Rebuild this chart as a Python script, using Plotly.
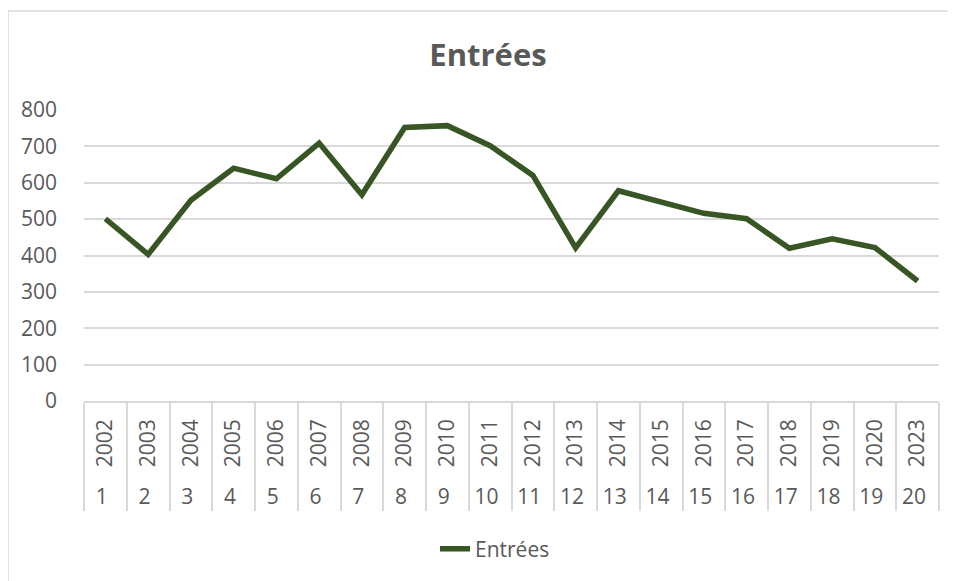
import plotly.graph_objects as go

years = ["2002", "2003", "2004", "2005", "2006", "2007", "2008", "2009", "2010", "2011",
         "2012", "2013", "2014", "2015", "2016", "2017", "2018", "2019", "2020", "2023"]
index_labels = [str(i) for i in range(1, 21)]
entrees = [501, 403, 552, 640, 611, 709, 567, 752, 757, 702,
           620, 421, 578, 548, 516, 501, 420, 446, 422, 330]
y_ticks = [0, 100, 200, 300, 400, 500, 600, 700, 800]

GREEN = "#375623"
GREY_TXT = "#595959"
GRID = "#d9d9d9"
FONT = "Open Sans"

# page body has an 8px margin: figure is 948x573 drawn at (8,8)
W, H = 948, 573
L, R, T, B = 76, 17, 102, 180
PH = H - T - B
PW = W - L - R

# a non-breaking space pads the rotated year labels, spacing the two label rows like the original
year_cats = ["\u00a0" + y for y in years]

fig = go.Figure()
fig.add_trace(go.Scatter(
    x=[index_labels, year_cats], y=entrees, mode="lines", name="Entrées",
    line=dict(color=GREEN, width=5.5, shape="linear"),
))

fig.update_layout(
    width=W, height=H,
    margin=dict(l=L, r=R, t=T, b=B, autoexpand=False),
    paper_bgcolor="white", plot_bgcolor="white",
    font=dict(family=FONT, size=21, color=GREY_TXT),
    title=dict(text="<b>Entrées</b>", x=480 / W, xanchor="center", y=1 - 47 / H, yanchor="middle",
               font=dict(family=FONT, size=31, color=GREY_TXT)),
    showlegend=True,
    legend=dict(orientation="h", x=(487 - L) / PW, xanchor="center",
                y=(PH - (541 - T)) / PH, yanchor="middle",
                font=dict(family=FONT, size=21, color=GREY_TXT)),
    xaxis=dict(type="multicategory", range=[-0.5, 19.5], tickangle=-90, showline=True,
               linecolor=GRID, linewidth=1.5, showgrid=False, showdividers=True,
               dividercolor=GRID, dividerwidth=1.5, ticklabelstandoff=8,
               tickfont=dict(family=FONT, size=21, color=GREY_TXT)),
    yaxis=dict(range=[0, 800], tickvals=y_ticks, showgrid=True, gridcolor=GRID, gridwidth=1.5,
               zeroline=False, showline=False, ticks="", ticklabelstandoff=26,
               tickfont=dict(family=FONT, size=21, color=GREY_TXT)),
    shapes=[dict(type="rect", xref="paper", yref="paper",
                 x0=-L / PW, x1=1.05, y0=-0.8, y1=(PH + T - 3) / PH,
                 line=dict(color=GRID, width=1.5), fillcolor="rgba(0,0,0,0)", layer="below")],
)

fig.write_html("out.html")
